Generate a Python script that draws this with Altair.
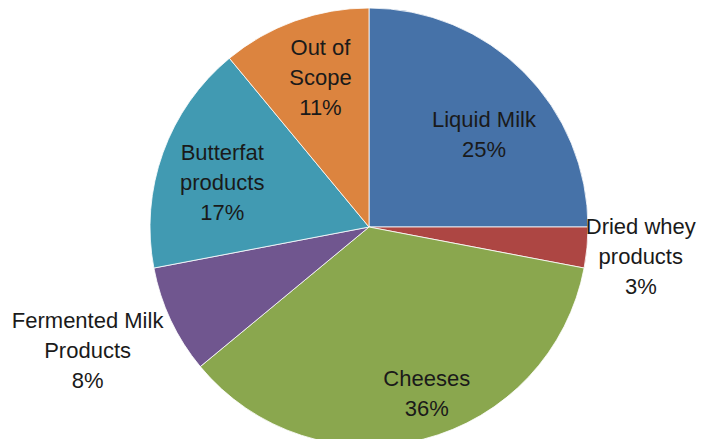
import altair as alt
import pandas as pd
import math

categories = ["Liquid Milk", "Dried whey products", "Cheeses",
              "Fermented Milk Products", "Butterfat products", "Out of Scope"]
label_lines = ["Liquid Milk", "Dried whey\nproducts", "Cheeses",
               "Fermented Milk\nProducts", "Butterfat\nproducts", "Out of\nScope"]
shares = [25, 3, 36, 8, 17, 11]
colors = ["#4672A8", "#AD4643", "#8AA74E", "#70568F", "#419AB2", "#DC843F"]

df = pd.DataFrame({
    "category": categories,
    "share": shares,
    "order": list(range(len(categories))),
    "label": [f"{l}\n{s}%" for l, s in zip(label_lines, shares)],
})

CX, CY, R = 361, 219, 219
theta_scale = alt.Scale(domain=[0, 100], range=[0, 2 * math.pi])

base = alt.Chart(df).transform_window(
    cum="sum(share)", sort=[alt.SortField("order")], frame=[None, 0]
).transform_calculate(
    start="datum.cum - datum.share",
    mid="datum.cum - datum.share / 2",
).encode(
    x=alt.value(CX),
    y=alt.value(CY),
)

pie = base.mark_arc(radius=R, stroke="white", strokeWidth=0.8).encode(
    theta=alt.Theta("start:Q", scale=theta_scale),
    theta2=alt.Theta2("cum:Q"),
    color=alt.Color("category:N", scale=alt.Scale(domain=categories, range=colors),
                    legend=None),
)

# label placement (style): radius, dx, dy per category
placement = {
    "Liquid Milk": (147, 11, -3),
    "Dried whey products": (273, 0, -26),
    "Cheeses": (172, 15, -15),
    "Fermented Milk Products": (311, 0, -38),
    "Butterfat products": (156, 0, -21),
    "Out of Scope": (158, 5, -30),
}

layers = [pie]
for cat in categories:
    r, dx, dy = placement[cat]
    layers.append(
        base.transform_filter(alt.datum.category == cat)
        .mark_text(radius=r, dx=dx, dy=dy, lineBreak="\n", lineHeight=30,
                   font="Liberation Sans", fontSize=22, color="#1a1a1a",
                   align="center", baseline="middle")
        .encode(theta=alt.Theta("mid:Q", scale=theta_scale), text="label:N")
    )

chart = alt.layer(*layers).properties(
    width=693, height=431, padding=0, autosize="none"
).configure_view(stroke=None)

chart.save("out.html", embed_options={"renderer": "svg", "actions": False})
